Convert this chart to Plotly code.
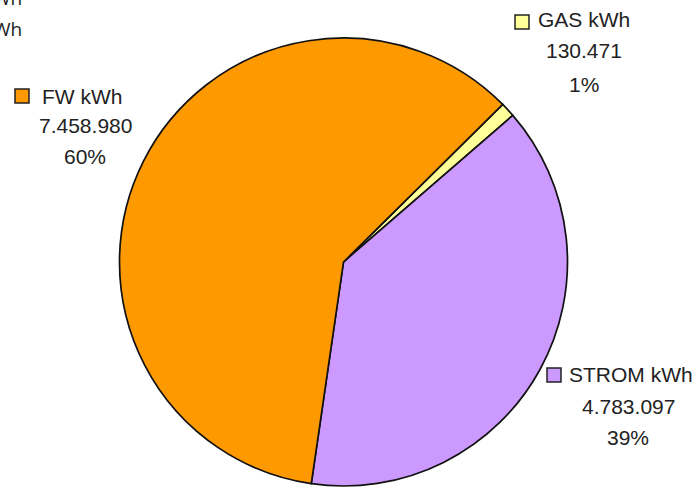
import plotly.graph_objects as go

labels = ["GAS kWh", "STROM kWh", "FW kWh"]
values = [130471, 4783097, 7458980]
colors = ["#FFFF99", "#CC99FF", "#FF9900"]

W, H = 694, 491
total = sum(values)

def fmt(v):
    return f"{v:,}".replace(",", ".")

fig = go.Figure(go.Pie(
    labels=labels, values=values, sort=False, direction="clockwise",
    rotation=45.3, textinfo="none", hoverinfo="label+value+percent",
    marker=dict(colors=colors, line=dict(color="#111111", width=1.7)),
    domain=dict(x=[(343.5 - 224) / W, (343.5 + 224) / W],
                y=[(H - 262 - 224) / H, (H - 262 + 224) / H]),
    showlegend=False,
))

# label layout: (square center x, y), name text left x, value/percent center x, line ys
label_pos = {
    "FW kWh": dict(sq=(22, 96), tx=40, cx=85, ys=(96, 126, 157)),
    "GAS kWh": dict(sq=(522, 22), tx=536, cx=584, ys=(20, 51, 85)),
    "STROM kWh": dict(sq=(554, 375), tx=567, cx=628, ys=(374, 406, 437)),
}

font = dict(family="Liberation Sans, Arial, sans-serif", size=21, color="#222222")
ann = []
shapes = []
for lab, val, col in zip(labels, values, colors):
    p = label_pos[lab]
    pct = f"{round(val / total * 100)}%"
    sx, sy = p["sq"]
    shapes.append(dict(type="rect", xref="paper", yref="paper",
                       x0=(sx - 7) / W, x1=(sx + 7) / W,
                       y0=(H - sy - 7) / H, y1=(H - sy + 7) / H,
                       fillcolor=col, line=dict(color="#222222", width=1.5)))
    ann.append(dict(text=lab, x=p["tx"] / W, y=(H - p["ys"][0]) / H, xref="paper", yref="paper",
                    xanchor="left", yanchor="middle", showarrow=False, font=font))
    ann.append(dict(text=fmt(val), x=p["cx"] / W, y=(H - p["ys"][1]) / H, xref="paper", yref="paper",
                    xanchor="center", yanchor="middle", showarrow=False, font=font))
    ann.append(dict(text=pct, x=p["cx"] / W, y=(H - p["ys"][2]) / H, xref="paper", yref="paper",
                    xanchor="center", yanchor="middle", showarrow=False, font=font))

# partially visible text at the top-left corner (cut off in the original)
cut_font = dict(family="Open Sans, sans-serif", size=19, color="#222222")
ann.append(dict(text="kWh", x=24 / W, y=(H + 2) / H, xref="paper", yref="paper",
                xanchor="right", yanchor="middle", showarrow=False, font=cut_font))
ann.append(dict(text="kWh", x=24 / W, y=(H - 29) / H, xref="paper", yref="paper",
                xanchor="right", yanchor="middle", showarrow=False, font=cut_font))

fig.update_layout(width=W, height=H, margin=dict(l=0, r=0, t=0, b=0),
                  paper_bgcolor="white", plot_bgcolor="white",
                  annotations=ann, shapes=shapes)
fig.write_html("out.html", config={"displayModeBar": False},
               post_script="document.body.style.margin='0';")
